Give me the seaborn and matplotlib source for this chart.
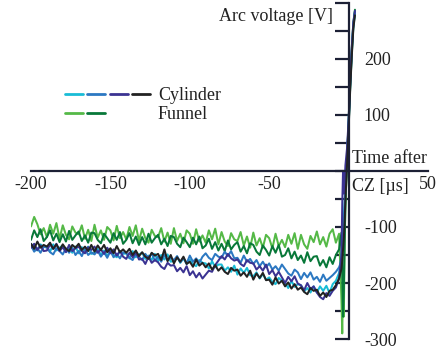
import numpy as np
import pandas as pd
import matplotlib
matplotlib.use("Agg")
import matplotlib.pyplot as plt
from matplotlib.lines import Line2D
from matplotlib.legend_handler import HandlerTuple
from matplotlib.ticker import MultipleLocator, FuncFormatter
import seaborn as sns

sns.set_theme(style="white")
plt.rcParams["font.family"] = ["Liberation Serif", "DejaVu Serif"]
plt.rcParams["axes.unicode_minus"] = False

# Sampling times (µs after current zero): slow pre-zero part, then the fast rise
t_main = np.arange(-200, -5, 2)
t_tail = [-4.5, -4, -3.5, -3, -2.5, -2, -1, 0, 1, 2, 3, 4]

# Arc voltage [V], funnel nozzle
funnel_a = [-99, -82, -95, -113, -102, -118, -96, -112, -93, -121,
            -97, -114, -122, -99, -110, -113, -97, -121, -105, -125,
            -96, -119, -106, -123, -100, -106, -124, -98, -120, -109,
            -122, -100, -116, -97, -125, -103, -120, -128, -105, -116,
            -118, -102, -126, -110, -130, -102, -125, -112, -129, -106,
            -112, -130, -104, -126, -115, -128, -106, -122, -103, -131,
            -109, -126, -134, -111, -122, -125, -109, -133, -117, -137,
            -110, -133, -120, -137, -114, -120, -138, -112, -134, -123,
            -136, -114, -130, -111, -139, -114, -131, -139, -116, -127,
            -108, -131, -118, -135, -112, -104, -128, -112]
funnel_a_tail = [-230, -290, -200, -260, -120, -60, 20, 80, 150, 210, 260, 285]

funnel_b = [-123, -106, -118, -104, -125, -118, -106, -124, -112, -127,
            -113, -126, -107, -123, -115, -108, -125, -115, -128, -110,
            -111, -123, -129, -112, -120, -128, -111, -123, -109, -130,
            -123, -111, -129, -117, -132, -118, -131, -112, -128, -120,
            -114, -131, -121, -134, -116, -118, -130, -136, -119, -127,
            -136, -119, -131, -117, -138, -133, -121, -139, -127, -142,
            -130, -143, -124, -140, -132, -127, -144, -134, -147, -129,
            -132, -144, -150, -133, -141, -151, -134, -146, -132, -153,
            -150, -138, -156, -144, -159, -151, -164, -145, -161, -153,
            -152, -169, -159, -172, -154, -166, -150, -140]
funnel_b_tail = [-110, -180, -260, -210, -130, -60, 20, 90, 160, 220, 265, 288]

# Arc voltage [V], cylinder nozzle
cyl_a = [-130, -138, -142, -131, -136, -135, -144, -131, -142, -137,
         -133, -144, -138, -146, -135, -147, -136, -144, -135, -148,
         -146, -139, -150, -142, -152, -142, -150, -154, -143, -148,
         -147, -156, -143, -154, -149, -146, -157, -151, -159, -148,
         -161, -150, -158, -149, -162, -160, -153, -164, -156, -166,
         -158, -166, -170, -159, -164, -165, -174, -161, -172, -167,
         -167, -178, -172, -180, -169, -185, -174, -182, -173, -186,
         -188, -181, -192, -184, -194, -190, -198, -202, -191, -196,
         -200, -209, -196, -207, -202, -204, -215, -209, -217, -206,
         -217, -206, -214, -205, -218, -202, -196, -182]
cyl_a_tail = [-150, -130, -100, -80, -60, -30, 20, 80, 150, 210, 258, 280]

cyl_b = [-133, -144, -138, -146, -135, -137, -145, -149, -138, -143,
         -149, -138, -146, -137, -150, -143, -152, -139, -150, -145,
         -149, -142, -153, -145, -155, -143, -154, -148, -156, -145,
         -147, -155, -159, -148, -153, -159, -148, -156, -147, -160,
         -153, -162, -149, -160, -155, -159, -152, -163, -155, -165,
         -151, -162, -156, -164, -153, -147, -155, -159, -148, -153,
         -155, -144, -152, -143, -156, -155, -164, -151, -162, -157,
         -166, -159, -170, -162, -172, -165, -176, -170, -178, -167,
         -175, -183, -187, -176, -181, -193, -182, -190, -181, -194,
         -189, -198, -185, -196, -191, -186, -180, -172]
cyl_b_tail = [-160, -140, -115, -90, -60, -25, 25, 85, 155, 215, 262, 284]

cyl_c = [-137, -130, -141, -133, -143, -142, -131, -139, -130, -143,
         -136, -145, -132, -143, -138, -135, -143, -147, -136, -141,
         -135, -146, -140, -148, -137, -147, -140, -151, -143, -153,
         -157, -146, -154, -145, -158, -157, -166, -153, -164, -159,
         -163, -171, -175, -164, -169, -168, -179, -173, -181, -170,
         -186, -179, -190, -182, -192, -185, -178, -180, -168, -160,
         -152, -158, -148, -156, -160, -158, -166, -170, -159, -164,
         -165, -176, -170, -178, -167, -184, -177, -188, -180, -190,
         -200, -189, -197, -188, -201, -204, -213, -200, -211, -206,
         -217, -225, -229, -218, -223, -214, -208, -192]
cyl_c_tail = [-150, -60, 0, -40, -20, 10, 40, 90, 160, 220, 265, 286]

cyl_d = [-130, -139, -126, -137, -132, -135, -128, -139, -131, -141,
         -131, -139, -143, -132, -137, -130, -141, -135, -143, -132,
         -144, -133, -141, -132, -145, -138, -147, -134, -145, -140,
         -146, -139, -150, -142, -152, -145, -153, -157, -146, -151,
         -148, -159, -140, -161, -150, -165, -154, -162, -153, -166,
         -162, -171, -158, -169, -164, -172, -165, -176, -168, -178,
         -172, -180, -184, -173, -178, -176, -187, -181, -189, -178,
         -194, -183, -191, -182, -195, -194, -203, -190, -201, -196,
         -206, -199, -210, -202, -212, -208, -216, -220, -209, -214,
         -212, -223, -217, -225, -214, -212, -204, -192]
cyl_d_tail = [-175, -160, -140, -120, -90, -50, 10, 75, 145, 205, 255, 278]

series = {
    "funnel_a": (funnel_a, funnel_a_tail, "#55b947"),
    "funnel_b": (funnel_b, funnel_b_tail, "#087839"),
    "cyl_a": (cyl_a, cyl_a_tail, "#19bcd6"),
    "cyl_b": (cyl_b, cyl_b_tail, "#2c78c2"),
    "cyl_c": (cyl_c, cyl_c_tail, "#3b3392"),
    "cyl_d": (cyl_d, cyl_d_tail, "#222222"),
}

frames = []
for name, (main, tail, _) in series.items():
    t = np.concatenate([t_main, t_tail])
    v = np.concatenate([main, tail])
    frames.append(pd.DataFrame({"t": t, "v": v, "series": name}))
df = pd.concat(frames, ignore_index=True)
palette = {name: c for name, (_, _, c) in series.items()}

fig = plt.figure(figsize=(4.39, 3.52), dpi=100)
ax = fig.add_axes([31 / 439, 1 - 339 / 352, 397 / 439, 336 / 352])

sns.lineplot(data=df, x="t", y="v", hue="series", palette=palette,
             estimator=None, sort=False, legend=False, linewidth=1.45, ax=ax)

ax.set_xlim(-200, 50)
ax.set_ylim(-300, 300)
ax.set_xlabel("")
ax.set_ylabel("")

axis_color = "#1c2035"
for side in ("left", "top"):
    ax.spines[side].set_visible(False)
ax.spines["right"].set_position(("data", 0))
ax.spines["bottom"].set_position(("data", 0))
for side in ("right", "bottom"):
    ax.spines[side].set_color(axis_color)
    ax.spines[side].set_linewidth(1.6)

ax.yaxis.tick_right()
ax.yaxis.set_major_locator(MultipleLocator(50))
ax.xaxis.set_major_locator(MultipleLocator(50))
ax.yaxis.set_major_formatter(FuncFormatter(
    lambda v, p: f"{int(v)}" if (round(v) % 100 == 0 and round(v) not in (0, 300)) else ""))
ax.xaxis.set_major_formatter(FuncFormatter(
    lambda v, p: "" if round(v) == 0 else f"{int(v)}"))
ax.tick_params(axis="y", which="major", direction="in", length=10, width=1.6,
               color=axis_color, pad=11, labelsize=13, labelcolor="#222222",
               right=True, left=False)
ax.tick_params(axis="x", which="major", direction="in", length=8, width=1.6,
               color=axis_color, pad=3.5, labelsize=13, labelcolor="#222222")

ax.text(-10, 275, "Arc voltage [V]", ha="right", va="center", fontsize=13,
        color="#222222")
ax.text(2, 23, "Time after", ha="left", va="center", fontsize=13,
        color="#222222")
ax.text(2, -27, "CZ [µs]", ha="left", va="center", fontsize=13,
        color="#222222")

cyl_handles = tuple(Line2D([], [], color=palette[k], lw=2.0)
                    for k in ("cyl_a", "cyl_b", "cyl_c", "cyl_d"))
fun_handles = tuple(Line2D([], [], color=palette[k], lw=2.0)
                    for k in ("funnel_a", "funnel_b"))
fig.legend([cyl_handles, fun_handles], ["Cylinder", "Funnel"],
           handler_map={tuple: HandlerTuple(ndivide=4, pad=0.25)},
           loc="center left", bbox_to_anchor=(65 / 439, 1 - 105 / 352),
           frameon=False, fontsize=13, handlelength=4.7, handletextpad=0.45,
           labelspacing=0.12, borderpad=0, borderaxespad=0, labelcolor="#222222")

fig.savefig("out.png", dpi=100)
